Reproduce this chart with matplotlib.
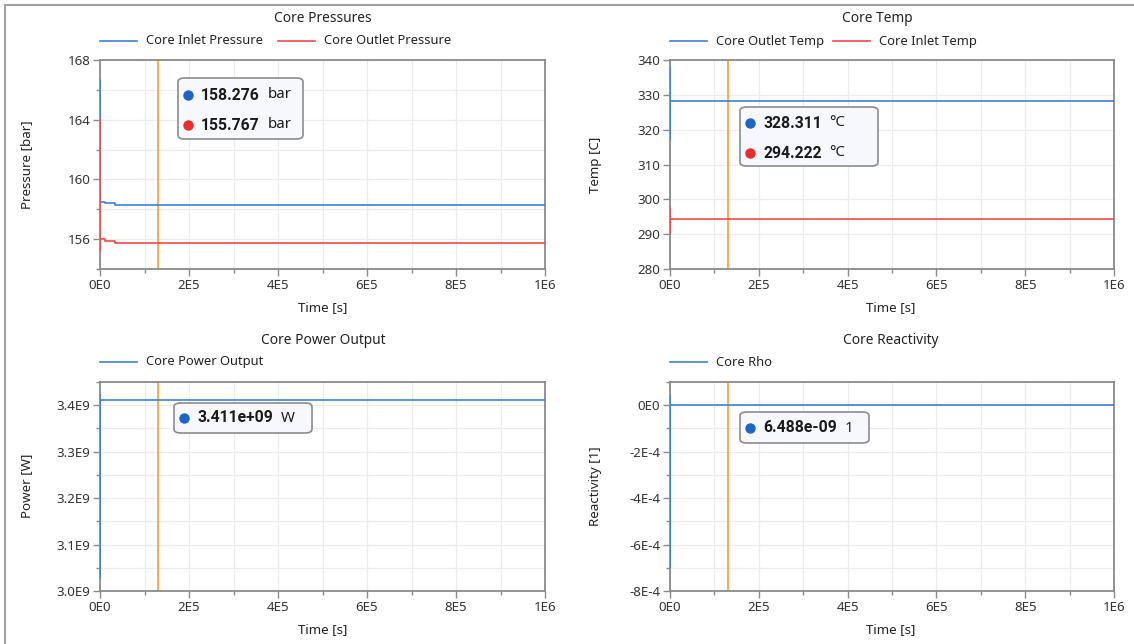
import matplotlib
matplotlib.use("Agg")
import matplotlib.pyplot as plt
from matplotlib.patches import FancyBboxPatch
from matplotlib.lines import Line2D
from matplotlib.text import Annotation
from matplotlib.ticker import MultipleLocator, FixedLocator, FixedFormatter

plt.rcParams["font.family"] = ["Noto Sans", "DejaVu Sans"]

# ─── Data ───────────────────────────────────────────────────────────
time_in_p    = [0, 0, 1.2e4, 3.4e4, 1e6]
inlet_pres   = [166.66, 158.52, 158.45, 158.276, 158.276]
time_out_p   = [0, 0, 0, 1.2e4, 3.4e4, 1e6]
outlet_pres  = [164.05, 155.27, 155.98, 155.90, 155.767, 155.767]

time_step    = [0, 0, 0, 1e6]
outlet_temp  = [338.1, 317.0, 328.311, 328.311]
inlet_temp   = [297.5, 290.3, 294.222, 294.222]
core_power   = [3.4215e9, 3.030e9, 3.411e9, 3.411e9]
core_rho     = [3.9e-5, -6.97e-4, 6.488e-9, 6.488e-9]

cursor_time  = 1.3e5

x_ticks      = [0, 2e5, 4e5, 6e5, 8e5, 1e6]
x_labels     = ["0E0", "2E5", "4E5", "6E5", "8E5", "1E6"]
pres_ticks   = [156, 160, 164, 168]
pres_labels  = ["156", "160", "164", "168"]
temp_ticks   = [280, 290, 300, 310, 320, 330, 340]
temp_labels  = ["280", "290", "300", "310", "320", "330", "340"]
power_ticks  = [3.0e9, 3.1e9, 3.2e9, 3.3e9, 3.4e9]
power_labels = ["3.0E9", "3.1E9", "3.2E9", "3.3E9", "3.4E9"]
rho_ticks    = [-8e-4, -6e-4, -4e-4, -2e-4, 0]
rho_labels   = ["-8E-4", "-6E-4", "-4E-4", "-2E-4", "0E0"]

# ─── Style ─────────────────────────────────────────────────────────
BLUE, RED, ORANGE = "#3f80d6", "#ef4a4a", "#ff9b26"
DOT_BLUE, DOT_RED = "#1e64c8", "#ec2c2c"
SPINE, GRID, TXT = "#8a8a8a", "#ebebeb", "#222222"
BOLD_FONT = ["Roboto", "DejaVu Sans"]
W, H = 1134, 644

fig = plt.figure(figsize=(W / 100, H / 100), dpi=100)


def px_axes(x0, y0, x1, y1):
    return fig.add_axes([x0 / W, 1 - y1 / H, (x1 - x0) / W, (y1 - y0) / H])


def style_axes(ax, yticks, ylabels, ylim, yminor):
    ax.set_xlim(0, 1e6)
    ax.set_ylim(*ylim)
    ax.xaxis.set_major_locator(FixedLocator(x_ticks))
    ax.xaxis.set_major_formatter(FixedFormatter(x_labels))
    ax.xaxis.set_minor_locator(MultipleLocator(1e5))
    ax.yaxis.set_major_locator(FixedLocator(yticks))
    ax.yaxis.set_major_formatter(FixedFormatter(ylabels))
    if yminor:
        ax.yaxis.set_minor_locator(MultipleLocator(yminor))
    ax.grid(True, which="both", color=GRID, lw=0.9, zorder=0)
    ax.set_axisbelow(True)
    for s in ax.spines.values():
        s.set_color(SPINE)
        s.set_linewidth(1.3)
    ax.tick_params(which="major", length=5, width=1, color=SPINE,
                   labelsize=9.6, labelcolor="#333333", pad=2)
    ax.tick_params(which="minor", length=3, width=1, color=SPINE)


def add_label(text, x, y, rot=0, size=9.6):
    fig.text(x / W, 1 - y / H, text, rotation=rot, ha="center",
             va="center", fontsize=size, color=TXT)


def legend_row(entries, y):
    for x0, x1, color, label in entries:
        fig.add_artist(Line2D([x0 / W, x1 / W], [1 - y / H] * 2,
                              color=color, lw=1.2))
        fig.text((x1 + 9) / W, 1 - y / H, label, ha="left", va="center",
                 fontsize=9.3, color=TXT)


def tooltip(box, rows):
    x0, y0, x1, y1 = box
    patch = FancyBboxPatch((x0 / W, 1 - y1 / H), (x1 - x0) / W,
                           (y1 - y0) / H,
                           boxstyle="round,pad=0,rounding_size=0.006",
                           transform=fig.transFigure, fc="#f7f8fd",
                           ec="#8c8c8c", lw=1.2, zorder=10)
    fig.add_artist(patch)
    for y, color, value, unit in rows:
        fig.add_artist(Line2D([(x0 + 10) / W], [1 - y / H], marker="o",
                              ms=6.5, color=color, lw=0, zorder=11))
        t = fig.text((x0 + 23) / W, 1 - y / H, value, ha="left",
                     va="center", fontsize=11.3, fontweight="bold",
                     family=BOLD_FONT, color="#1a1a1a", zorder=11)
        fig.add_artist(Annotation(
            unit, xy=(1, 0.5), xycoords=t, xytext=(5.5, 0),
            textcoords="offset points", ha="left", va="center",
            fontsize=10.8, color="#1a1a1a", zorder=11))


# ─── Core Pressures ────────────────────────────────────────────────
ax1 = px_axes(100, 60, 545, 269)
ax1.plot(time_in_p, inlet_pres, drawstyle="steps-post", color=BLUE, lw=1.2,
         zorder=3)
ax1.plot(time_out_p, outlet_pres, drawstyle="steps-post", color=RED, lw=1.2,
         zorder=3)
ax1.axvline(cursor_time, color=ORANGE, lw=1.2)
style_axes(ax1, pres_ticks, pres_labels, (154, 168), 2)
add_label("Core Pressures", 323, 18, size=9.9)
add_label("Time [s]", 323, 308)
add_label("Pressure [bar]", 27, 165, 90)
legend_row([(100, 137, BLUE, "Core Inlet Pressure"),
            (278, 315, RED, "Core Outlet Pressure")], 41)
tooltip((178, 78, 303, 139), [(95, DOT_BLUE, "158.276", "bar"),
                              (125, DOT_RED, "155.767", "bar")])

# ─── Core Temp ─────────────────────────────────────────────────────
ax2 = px_axes(670, 60, 1114, 269)
ax2.plot(time_step, outlet_temp, drawstyle="steps-post", color=BLUE, lw=1.2,
         zorder=3)
ax2.plot(time_step, inlet_temp, drawstyle="steps-post", color=RED, lw=1.2,
         zorder=3)
ax2.axvline(cursor_time, color=ORANGE, lw=1.2)
style_axes(ax2, temp_ticks, temp_labels, (280, 340), None)
add_label("Core Temp", 877, 18, size=9.9)
add_label("Time [s]", 891, 308)
add_label("Temp [C]", 596, 165, 90)
legend_row([(670, 707, BLUE, "Core Outlet Temp"),
            (833, 870, RED, "Core Inlet Temp")], 41)
tooltip((740, 107, 878, 166), [(123, DOT_BLUE, "328.311", "°C"),
                               (153, DOT_RED, "294.222", "°C")])

# ─── Core Power Output ─────────────────────────────────────────────
ax3 = px_axes(100, 382, 545, 591)
ax3.plot(time_step, core_power, drawstyle="steps-post", color=BLUE, lw=1.2,
         zorder=3)
ax3.axvline(cursor_time, color=ORANGE, lw=1.2)
style_axes(ax3, power_ticks, power_labels, (3.0e9, 3.45e9), 0.05e9)
add_label("Core Power Output", 323, 340, size=9.9)
add_label("Time [s]", 323, 630)
add_label("Power [W]", 27, 486, 90)
legend_row([(100, 137, BLUE, "Core Power Output")], 362)
tooltip((174, 403, 312, 433), [(418, DOT_BLUE, "3.411e+09", "W")])

# ─── Core Reactivity ───────────────────────────────────────────────
ax4 = px_axes(670, 382, 1114, 591)
ax4.plot(time_step, core_rho, drawstyle="steps-post", color=BLUE, lw=1.2,
         zorder=3)
ax4.axvline(cursor_time, color=ORANGE, lw=1.2)
style_axes(ax4, rho_ticks, rho_labels, (-8e-4, 1e-4), 1e-4)
add_label("Core Reactivity", 891, 340, size=9.9)
add_label("Time [s]", 891, 630)
add_label("Reactivity [1]", 596, 486, 90)
legend_row([(670, 707, BLUE, "Core Rho")], 362)
tooltip((740, 412, 869, 443), [(428, DOT_BLUE, "6.488e-09", "1")])

# window frame lines (left and top edges)
fig.add_artist(Line2D([5 / W, 5 / W], [0, 1 - 5 / H], color="#a0a0a0", lw=1.5))
fig.add_artist(Line2D([5 / W, 1], [1 - 5 / H] * 2, color="#a0a0a0", lw=1.5))

fig.savefig("out.png", dpi=100)
